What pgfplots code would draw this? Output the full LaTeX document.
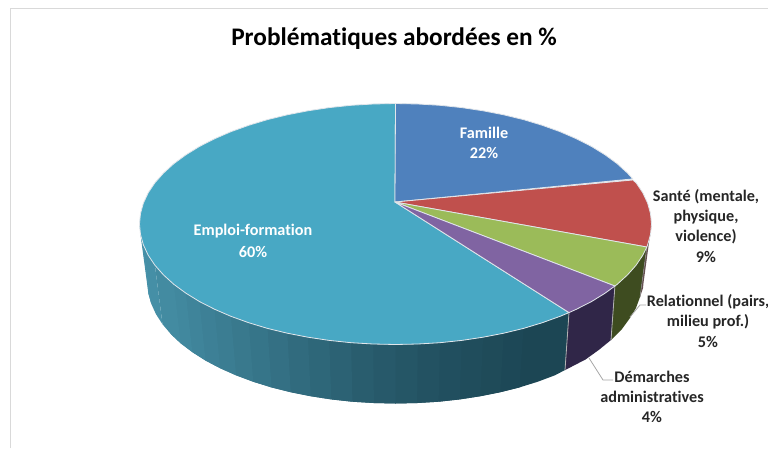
\documentclass[border=0pt]{standalone}
\usepackage{pgfplots}
\pgfplotsset{compat=1.18}
\usepackage{fontspec}
\setmainfont[Ligatures=NoCommon]{Carlito}
\definecolor{tealL}{RGB}{72,148,172}
\definecolor{tealD}{RGB}{28,70,84}
\definecolor{cBlue}{RGB}{79,129,189}
\definecolor{cRed}{RGB}{192,80,77}
\definecolor{cGreen}{RGB}{155,187,89}
\definecolor{cPurple}{RGB}{128,100,162}
\definecolor{cTeal}{RGB}{72,168,196}
\definecolor{edge}{RGB}{225,230,235}
\newcommand\q[2]{\addplot[fill=tealL!#1!tealD,draw=none] coordinates {#2} -- cycle;}
\newcommand\lab[4]{\node[font=\fontsize{#3}{#3}\selectfont\bfseries,text=#4,inner sep=0pt,anchor=center] at (axis cs:#1,#2)}
\begin{document}
\begin{tikzpicture}
\begin{axis}[
  scale only axis, width=768pt, height=448pt,
  xmin=0, xmax=768, ymin=0, ymax=448, y dir=reverse,
  hide axis, clip=true, line join=round]
% frame
\addplot[draw=none,fill=white] coordinates {(0,0)(768,0)(768,448)(0,448)} -- cycle;
\addplot[draw=black!15,line width=1pt] coordinates {(10,448)(10,8)(768,8)};
% side: Emploi-formation, dark to light; each strip reaches under the next one
\q{0}{(569,312.6)(560.1,316.3)(542.3,322.7)(523.5,328.4)(503.7,333.2)(500.3,392.2)(519.5,387.4)(537.8,381.7)(554.9,375.3)(565,370)}
\q{3}{(523.5,328.4)(503.7,333.2)(483.1,337.2)(480.3,396.2)(500.3,392.2)(519.5,387.4)}
\q{6}{(503.7,333.2)(483.1,337.2)(461.8,340.4)(459.7,399.4)(480.3,396.2)(500.3,392.2)}
\q{9}{(483.1,337.2)(461.8,340.4)(439.9,342.7)(438.6,401.7)(459.7,399.4)(480.3,396.2)}
\q{12}{(461.8,340.4)(439.9,342.7)(417.8,344)(417.1,403)(438.6,401.7)(459.7,399.4)}
\q{16}{(439.9,342.7)(417.8,344)(395.5,344.5)(395.5,403.5)(417.1,403)(438.6,401.7)}
\q{20}{(417.8,344)(395.5,344.5)(373.2,344)(373.9,403)(395.5,403.5)(417.1,403)}
\q{25}{(395.5,344.5)(373.2,344)(351.1,342.7)(352.4,401.7)(373.9,403)(395.5,403.5)}
\q{30}{(373.2,344)(351.1,342.7)(329.2,340.4)(331.3,399.4)(352.4,401.7)(373.9,403)}
\q{36}{(351.1,342.7)(329.2,340.4)(307.9,337.2)(310.7,396.2)(331.3,399.4)(352.4,401.7)}
\q{42}{(329.2,340.4)(307.9,337.2)(287.3,333.2)(290.7,392.2)(310.7,396.2)(331.3,399.4)}
\q{48}{(307.9,337.2)(287.3,333.2)(267.5,328.4)(271.5,387.4)(290.7,392.2)(310.7,396.2)}
\q{54}{(287.3,333.2)(267.5,328.4)(248.7,322.7)(253.2,381.7)(271.5,387.4)(290.7,392.2)}
\q{60}{(267.5,328.4)(248.7,322.7)(230.9,316.3)(236.1,375.3)(253.2,381.7)(271.5,387.4)}
\q{65}{(248.7,322.7)(230.9,316.3)(214.5,309.2)(220.1,368.2)(236.1,375.3)(253.2,381.7)}
\q{70}{(230.9,316.3)(214.5,309.2)(199.4,301.5)(205.5,360.5)(220.1,368.2)(236.1,375.3)}
\q{75}{(214.5,309.2)(199.4,301.5)(185.8,293.1)(192.3,352.1)(205.5,360.5)(220.1,368.2)}
\q{80}{(199.4,301.5)(185.8,293.1)(173.8,284.3)(180.7,343.3)(192.3,352.1)(205.5,360.5)}
\q{84}{(185.8,293.1)(173.8,284.3)(163.5,274.9)(170.7,333.9)(180.7,343.3)(192.3,352.1)}
\q{88}{(173.8,284.3)(163.5,274.9)(154.9,265.2)(162.5,324.2)(170.7,333.9)(180.7,343.3)}
\q{93}{(154.9,265.2)(148.2,255.2)(143.4,244.9)(140.5,234.5)(148.4,293.5)(151.3,303.9)(156,314.2)(162.5,324.2)}
\q{98}{(143.4,244.9)(140.5,234.5)(139.5,224)(147.5,283)(148.4,293.5)(151.3,303.9)}
% side: Démarches administratives
\addplot[fill={rgb,255:red,48;green,38;blue,72},draw=none] coordinates {(614.9,286)(605.2,293.1)(591.6,301.5)(576.5,309.2)(569,312.6)(565,370)(571,367)(585.5,359.5)(598.7,350)(611,340)} -- cycle;
% side: Relationnel
\addplot[fill={rgb,255:red,62;green,76;blue,32},draw=none] coordinates {(646.8,247)(642.8,255.2)(636.1,265.2)(627.5,274.9)(617.2,284.3)(614.9,286)(611,340)(622,329)(630,318)(636,308)(640,297)} -- cycle;
% side: Santé
\addplot[fill={rgb,255:red,100;green,80;blue,80},draw=none] coordinates {(651.5,224)(650.5,234.5)(647.6,244.9)(646.8,247)(640,297)(643,288)(643.5,283)} -- cycle;
% side separators
\addplot[draw=black!30,line width=.8pt] coordinates {(569,312.6)(565,370)};
\addplot[draw=black!30,line width=.8pt] coordinates {(614.9,286)(611,340)};
\addplot[draw=black!45,line width=.5pt] coordinates {(646.8,247)(640,297)};
% top: Emploi-formation
\addplot[fill=cTeal,draw=edge,line width=.8pt] coordinates {(395,202)(569,312.6)(560.1,316.3)(542.3,322.7)(523.5,328.4)(503.7,333.2)(483.1,337.2)(461.8,340.4)(439.9,342.7)(417.8,344)(395.5,344.5)(373.2,344)(351.1,342.7)(329.2,340.4)(307.9,337.2)(287.3,333.2)(267.5,328.4)(248.7,322.7)(230.9,316.3)(214.5,309.2)(199.4,301.5)(185.8,293.1)(173.8,284.3)(163.5,274.9)(154.9,265.2)(148.2,255.2)(143.4,244.9)(140.5,234.5)(139.5,224)(140.5,213.5)(143.4,203.1)(148.2,192.8)(154.9,182.8)(163.5,173.1)(173.8,163.7)(185.8,154.9)(199.4,146.5)(214.5,138.8)(230.9,131.7)(248.7,125.3)(267.5,119.6)(287.3,114.8)(307.9,110.8)(329.2,107.6)(351.1,105.3)(373.2,104)(395.5,103.5)} -- cycle;
% top: Famille
\addplot[fill=cBlue,draw=edge,line width=.8pt] coordinates {(395,202)(395.5,103.5)(417.8,104)(439.9,105.3)(461.8,107.6)(483.1,110.8)(503.7,114.8)(523.5,119.6)(542.3,125.3)(560.1,131.7)(576.5,138.8)(591.6,146.5)(605.2,154.9)(617.2,163.7)(627.5,173.1)(632.8,178.9)} -- cycle;
% top: Santé
\addplot[fill=cRed,draw=edge,line width=.8pt] coordinates {(395,202)(632.8,180)(636.1,182.8)(642.8,192.8)(647.6,203.1)(650.5,213.5)(651.5,224)(650.5,234.5)(647.6,244.9)(646.8,247)} -- cycle;
% top: Relationnel
\addplot[fill=cGreen,draw=edge,line width=.8pt] coordinates {(395,202)(646.8,247)(642.8,255.2)(636.1,265.2)(627.5,274.9)(617.2,284.3)(614.9,286)} -- cycle;
% top: Démarches
\addplot[fill=cPurple,draw=edge,line width=.8pt] coordinates {(395,202)(614.9,286)(605.2,293.1)(591.6,301.5)(576.5,309.2)(569,312.6)} -- cycle;
% leaders
\addplot[draw=black!35,line width=.8pt] coordinates {(630,317)(640,305)(646,305)};
\addplot[draw=black!35,line width=.8pt] coordinates {(589,358)(603,380)(613,380)};
% labels
\lab{394}{39}{25.3}{black}{Problématiques abordées en \%};
\lab{484}{133}{16.2}{white}{Famille};
\lab{484}{153}{16.2}{white}{22\%};
\lab{253}{231}{16.2}{white}{Emploi-formation};
\lab{253}{252}{16.2}{white}{60\%};
\lab{706}{197}{16.2}{black!85}{Santé (mentale,};
\lab{706}{217}{16.2}{black!85}{physique,};
\lab{706}{237}{16.2}{black!85}{violence)};
\lab{706}{257}{16.2}{black!85}{9\%};
\lab{708}{302}{16.2}{black!85}{Relationnel (pairs,};
\lab{708}{322}{16.2}{black!85}{milieu prof.)};
\lab{708}{342}{16.2}{black!85}{5\%};
\lab{652}{377}{16.2}{black!85}{Démarches};
\lab{652}{397}{16.2}{black!85}{administratives};
\lab{652}{417}{16.2}{black!85}{4\%};
\end{axis}
\end{tikzpicture}
\end{document}
